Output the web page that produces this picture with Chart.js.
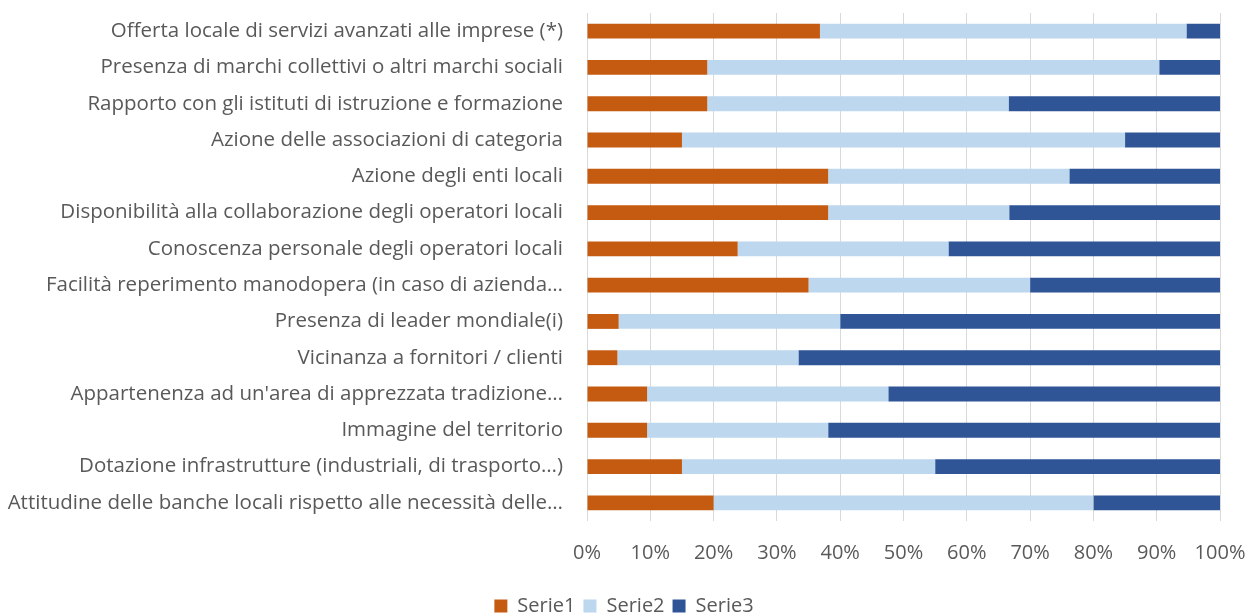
<!DOCTYPE html>
<html>
<head>
<meta charset="utf-8">
<script src="https://cdn.jsdelivr.net/npm/chart.js@4"></script>
<style>
  html, body { margin: 0; padding: 0; background: #ffffff; overflow: hidden; width: 1248px; height: 615px; }
  /* canvas is a little taller than the window so the legend sits lower */
  .box { width: 1248px; height: 626px; position: relative; }
</style>
</head>
<body>
<div class="box"><canvas id="barChart"></canvas></div>
<script>
const categories = [
  "Offerta locale di servizi avanzati alle imprese (*)",
  "Presenza di marchi collettivi o altri marchi sociali",
  "Rapporto con gli istituti di istruzione e formazione",
  "Azione delle associazioni di categoria",
  "Azione degli enti locali",
  "Disponibilità alla collaborazione degli operatori locali",
  "Conoscenza personale degli operatori locali",
  "Facilità reperimento manodopera (in caso di azienda…",
  "Presenza di leader mondiale(i)",
  "Vicinanza a fornitori / clienti",
  "Appartenenza ad un'area di apprezzata tradizione…",
  "Immagine del territorio",
  "Dotazione infrastrutture (industriali, di trasporto…)",
  "Attitudine delle banche locali rispetto alle necessità delle…"
];

// values in percent
const serie1 = [36.8, 19.0, 19.0, 15.0, 38.1, 38.1, 23.8, 35.0, 5.0, 4.8, 9.5, 9.5, 15.0, 20.0];
const serie2 = [57.9, 71.4, 47.6, 70.0, 38.1, 28.6, 33.3, 35.0, 35.0, 28.6, 38.1, 28.6, 40.0, 60.0];
const serie3 = [5.3, 9.6, 33.4, 15.0, 23.8, 33.3, 42.9, 30.0, 60.0, 66.6, 52.4, 61.9, 45.0, 20.0];

const xTicks = [0, 10, 20, 30, 40, 50, 60, 70, 80, 90, 100];

const textColor = "#595959";
const fontFamily = "'Open Sans', sans-serif";

const ctx = document.getElementById("barChart").getContext("2d");
new Chart(ctx, {
  type: "bar",
  data: {
    labels: categories,
    datasets: [
      { label: "Serie1", data: serie1, backgroundColor: "#C55A11" },
      { label: "Serie2", data: serie2, backgroundColor: "#BDD7EE" },
      { label: "Serie3", data: serie3, backgroundColor: "#2F5597" },
    ],
  },
  options: {
    indexAxis: "y",
    responsive: true,
    maintainAspectRatio: false,
    animation: false,
    datasets: {
      bar: { barPercentage: 0.41, categoryPercentage: 1.0, borderWidth: 0 },
    },
    layout: { padding: { top: 13, right: 0, bottom: 0, left: 0 } },
    plugins: {
      tooltip: { enabled: false },
      legend: {
        position: "bottom",
        labels: {
          boxWidth: 13,
          boxHeight: 13,
          padding: 8,
          color: textColor,
          font: { family: fontFamily, size: 20 },
        },
      },
    },
    scales: {
      x: {
        stacked: true,
        min: 0,
        max: 100,
        afterBuildTicks: (scale) => {
          scale.ticks = xTicks.map(v => ({ value: v }));
        },
        afterFit: (scale) => {
          scale.height = 67;
          scale.paddingLeft = 0;
          scale.paddingRight = 28; // room for "100%"
        },
        grid: { color: "#d9d9d9", lineWidth: 1, drawTicks: false },
        border: { display: false },
        ticks: {
          padding: 20,
          color: textColor,
          font: { family: fontFamily, size: 20 },
          maxRotation: 0,
          callback: (v) => v + "%",
        },
      },
      y: {
        stacked: true,
        afterFit: (scale) => {
          scale.width = 587;
          scale.paddingTop = 0;
          scale.paddingBottom = 0;
        },
        grid: { display: false, drawTicks: false },
        border: { display: false },
        ticks: {
          padding: 24,
          color: textColor,
          font: { family: fontFamily, size: 20.5 },
          autoSkip: false,
        },
      },
    },
  },
});
</script>
</body>
</html>
